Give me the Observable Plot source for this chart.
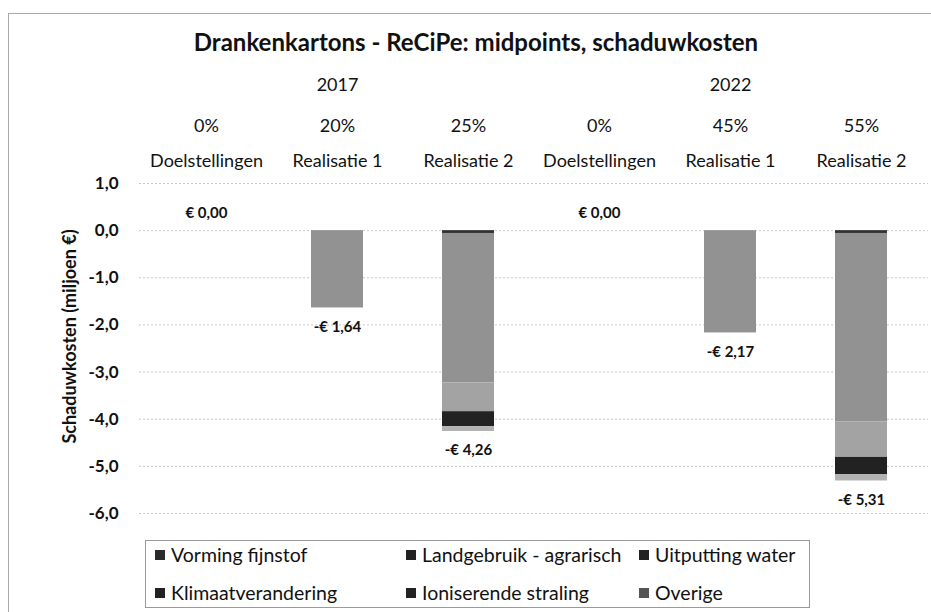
<!DOCTYPE html>
<html><head><meta charset="utf-8">
<script src="https://cdn.jsdelivr.net/npm/d3@7"></script>
<script src="https://cdn.jsdelivr.net/npm/@observablehq/plot@0.6"></script>
<style>
body{margin:0;background:#fff;font-family:Lato,sans-serif;width:931px;height:612px;overflow:hidden;position:relative;color:#111}
#frame{position:absolute;left:8px;top:13px;width:940px;height:620px;border:1px solid #a8a8a8;box-sizing:border-box}
#title{position:absolute;left:0;top:27px;width:952px;text-align:center;font-weight:bold;font-size:24px;line-height:30px;color:#111}
#chart{position:absolute;left:0;top:60px}
#legend{position:absolute;left:145px;top:540px;width:665px;height:68px;border:1px solid #9a9a9a;box-sizing:border-box}
.item{position:absolute;font-size:19.5px;line-height:26px;white-space:nowrap;color:#111}
.sw{display:inline-block;width:10px;height:10px;margin-right:6px;vertical-align:2px}
</style></head><body>
<div id="frame"></div>
<div id="title">Drankenkartons - ReCiPe: midpoints, schaduwkosten</div>
<div id="chart"></div>
<div id="legend"></div>
<script>
const columnIds = ["2017-D","2017-R1","2017-R2","2022-D","2022-R1","2022-R2"];
const categories = ["Doelstellingen","Realisatie 1","Realisatie 2","Doelstellingen","Realisatie 1","Realisatie 2"];
const years = ["","2017","","","2022",""];
const percentages = ["0%","20%","25%","0%","45%","55%"];
const seriesNames = ["Vorming fijnstof","Landgebruik - agrarisch","Uitputting water","Klimaatverandering","Ioniserende straling","Overige"];
const seriesColors = ["#333333","#929292","#a3a3a3","#222222","#555555","#b2b2b2"];
const legendSwatch = ["#2a2a2a","#222222","#222222","#222222","#222222","#555555"];
const vormingFijnstof      = [0, 0,    -0.06, 0, 0,    -0.06];
const landgebruikAgrarisch = [0, -1.64,-3.17, 0, -2.17,-4.00];
const uitputtingWater      = [0, 0,    -0.61, 0, 0,    -0.75];
const klimaatverandering   = [0, 0,    -0.32, 0, 0,    -0.37];
const ioniserendeStraling  = [0, 0,    0,     0, 0,    0];
const overige              = [0, 0,    -0.10, 0, 0,    -0.13];
const totals = [0, -1.64, -4.26, 0, -2.17, -5.31];
const yTicks = [1, 0, -1, -2, -3, -4, -5, -6];

const seriesValues = [vormingFijnstof, landgebruikAgrarisch, uitputtingWater, klimaatverandering, ioniserendeStraling, overige];
const rows = seriesNames.flatMap((s, i) => seriesValues[i].map((v, j) => ({col: columnIds[j], series: s, value: v}))).filter(d => d.value !== 0);
const euro = v => (v < 0 ? "-" : "") + "€ " + Math.abs(v).toFixed(2).replace(".", ",");
const tickFmt = v => v.toFixed(1).replace(".", ",");

const chart = Plot.plot({
  width: 931, height: 468,
  marginTop: 123, marginBottom: 15, marginLeft: 139, marginRight: 3,
  style: {fontFamily: "Lato, sans-serif", background: "transparent", color: "#111"},
  x: {domain: columnIds, paddingInner: 0.6, paddingOuter: 0.3, axis: null},
  y: {domain: [-6, 1], axis: null},
  color: {domain: seriesNames, range: seriesColors},
  marks: [
    Plot.ruleY(yTicks, {stroke: "#c8c8c8", strokeDasharray: "2,2"}),
    Plot.axisY({ticks: yTicks, tickSize: 0, tickPadding: 21, tickFormat: tickFmt, fontSize: 17, fontWeight: "bold", label: null}),
    Plot.barY(rows, {x: "col", y: "value", fill: "series"}),
    Plot.text(categories, {x: columnIds, text: d => d, frameAnchor: "top", dy: -29, fontSize: 18}),
    Plot.text(percentages, {x: columnIds, text: d => d, frameAnchor: "top", dy: -64, fontSize: 18}),
    Plot.text(years, {x: columnIds, text: d => d, frameAnchor: "top", dy: -105, fontSize: 18}),
    Plot.text(totals, {filter: d => d < 0, x: columnIds, y: d => d, text: euro, dy: 19, fontSize: 15, fontWeight: "bold"}),
    Plot.text(totals, {filter: d => d === 0, x: columnIds, y: d => d, text: euro, dy: -17, fontSize: 15, fontWeight: "bold"}),
    Plot.text(["Schaduwkosten (miljoen €)"], {frameAnchor: "left", textAnchor: "middle", dx: -69, dy: -12, rotate: -90, fontSize: 18, fontWeight: "bold"})
  ]
});
document.getElementById("chart").appendChild(chart);

const legend = document.getElementById("legend");
const colX = [9, 260, 493];
const rowY = [1, 39];
seriesNames.forEach((name, i) => {
  const el = document.createElement("div");
  el.className = "item";
  el.style.left = colX[i % 3] + "px";
  el.style.top = rowY[Math.floor(i / 3)] + "px";
  el.innerHTML = `<span class="sw" style="background:${legendSwatch[i]}"></span>${name}`;
  legend.appendChild(el);
});
</script>
</body></html>
